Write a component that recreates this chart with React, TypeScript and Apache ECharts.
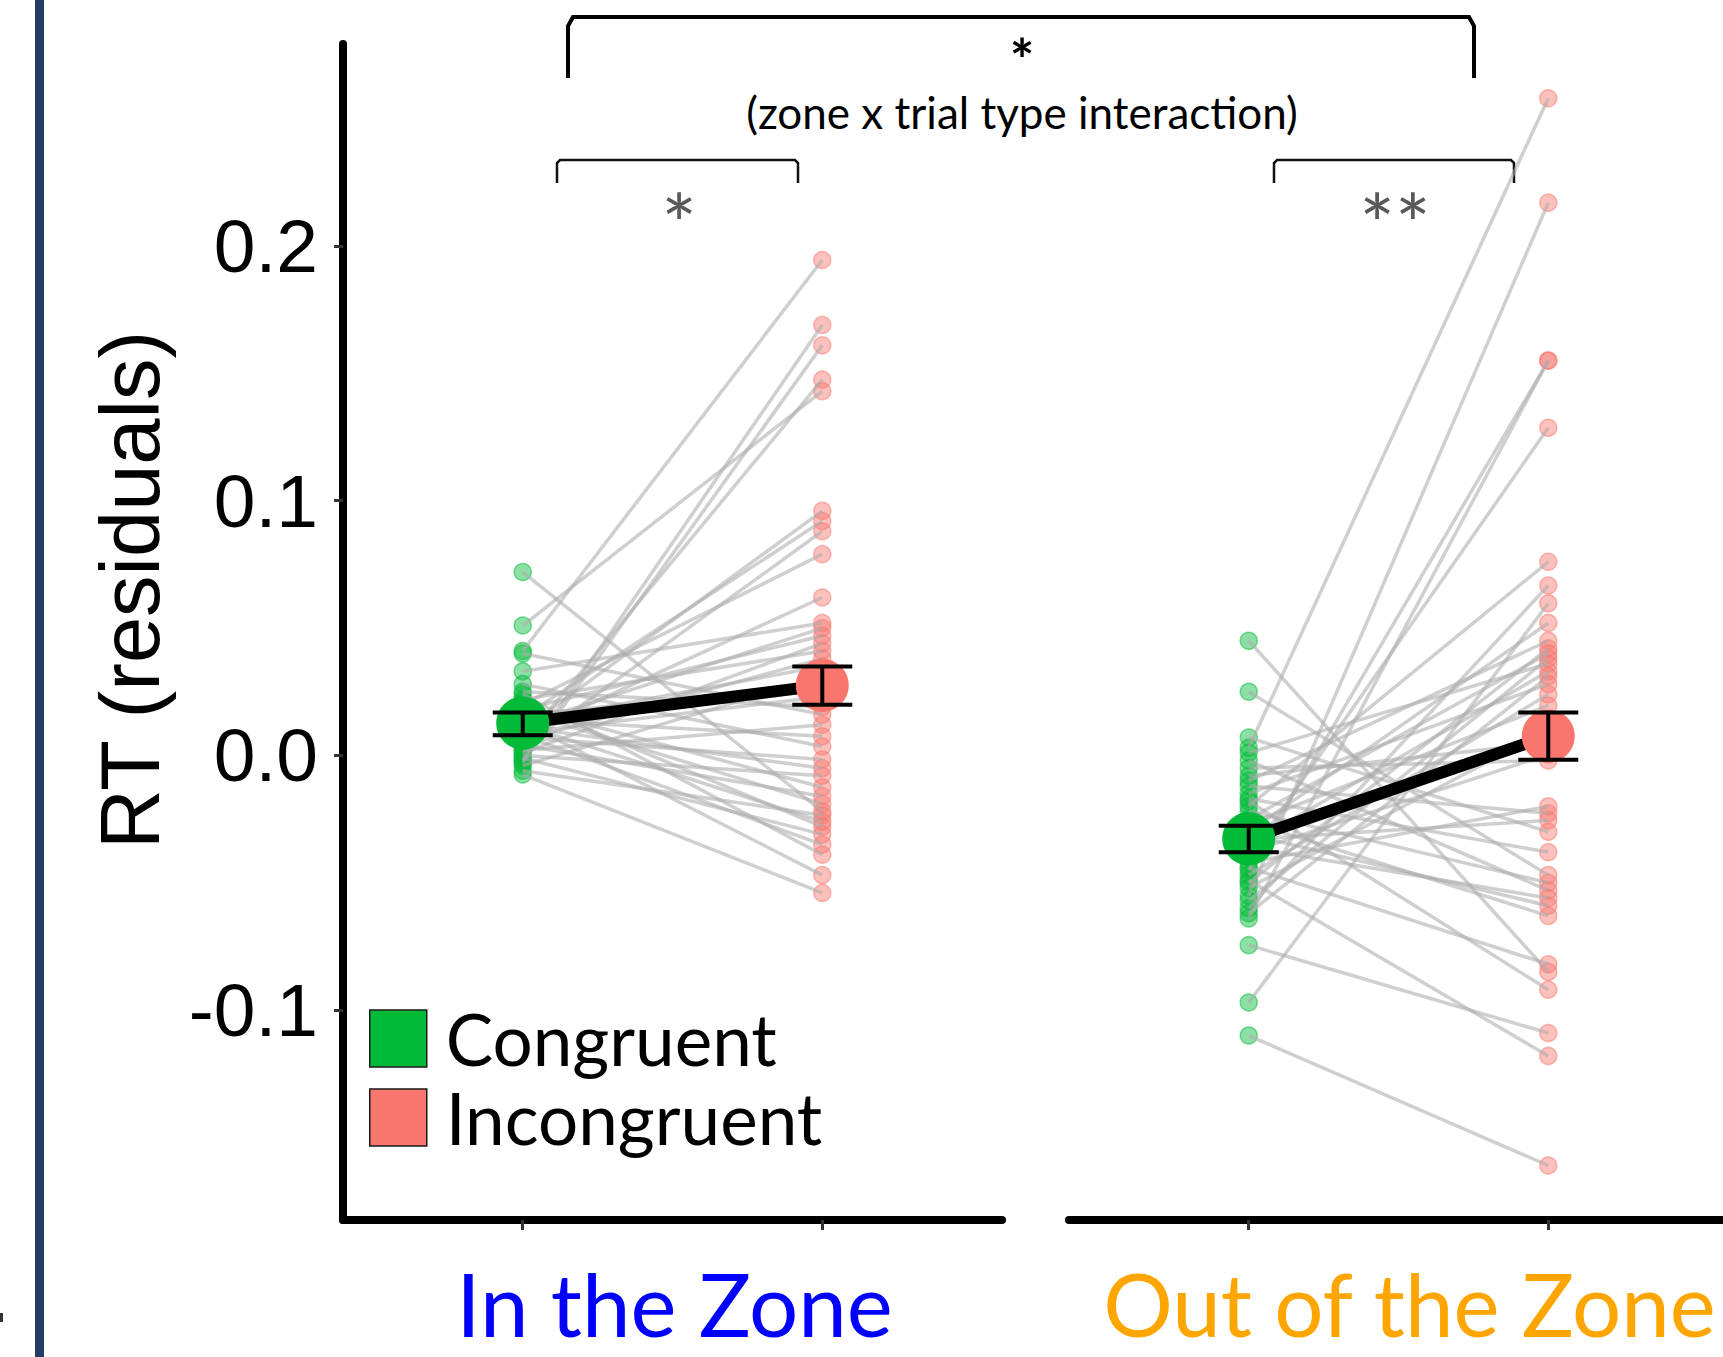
import React, { useEffect, useRef } from 'react';
import * as echarts from 'echarts';

// ---- data ----
const trialTypes = ['Congruent', 'Incongruent'];
const zoneLabels = ['In the Zone', 'Out of the Zone'];
const yTickValues = [-0.1, 0, 0.1, 0.2];
const yTickLabels = ['-0.1', '0.0', '0.1', '0.2'];
const yMin = -0.1824;
const yMax = 0.2793;

// individual participants, paired by index (congruent -> incongruent)
const inZoneCongruent = [0.041, -0.002, -0.003, 0.005, 0.051, 0.010, 0.015, 0.003, 0.020, 0.008, 0.040, 0.012, 0.018, 0.001, 0.022, 0.006, 0.013, -0.004, 0.016, 0.009, 0.025, 0.033, 0.002, 0.014, 0.028, 0.007, 0.011, 0.000, 0.019, 0.004, 0.017, 0.072, -0.006, 0.012, 0.021, -0.001, 0.008, 0.024, 0.013, -0.0075];
const inZoneIncongruent = [0.1945, 0.169, 0.161, 0.1475, 0.143, 0.096, 0.092, 0.088, 0.079, 0.062, 0.016, 0.050, 0.047, 0.044, 0.041, 0.038, 0.035, 0.031, 0.027, 0.023, 0.019, 0.052, 0.012, 0.0075, 0.0035, -0.0016, -0.005, -0.008, -0.0125, -0.016, -0.019, -0.022, -0.0235, -0.026, -0.028, -0.031, -0.035, -0.039, -0.047, -0.054];
const outZoneCongruent = [0.003, -0.055, -0.064, -0.045, -0.040, -0.097, -0.020, -0.060, -0.030, -0.010, -0.050, -0.025, -0.057, 0.001, -0.035, -0.062, -0.015, -0.047, -0.027, -0.052, -0.008, -0.038, -0.005, -0.042, -0.012, -0.033, 0.007, -0.017, 0.025, -0.022, -0.002, -0.036, -0.031, -0.026, 0.045, -0.044, -0.018, -0.0745, -0.049, -0.110];
const outZoneIncongruent = [0.258, 0.217, 0.155, 0.155, 0.1286, 0.0597, 0.076, 0.0667, 0.052, 0.045, 0.042, 0.040, 0.038, 0.036, 0.033, 0.031, 0.028, 0.024, 0.0196, 0.010, 0.005, 0.0004, -0.002, -0.020, -0.0227, -0.0255, -0.030, -0.038, -0.047, -0.050, -0.053, -0.056, -0.059, -0.063, -0.085, -0.082, -0.092, -0.109, -0.118, -0.161];

// condition means and error bars [congruent, incongruent]
const inZoneMean = [0.0127, 0.0275];
const inZoneLow = [0.0079, 0.0199];
const inZoneHigh = [0.0168, 0.0349];
const outZoneMean = [-0.0327, 0.0076];
const outZoneLow = [-0.0380, -0.0017];
const outZoneHigh = [-0.0276, 0.0168];

const GREEN = '#00BA38';
const RED = '#F8766D';
const LATO = 'Lato, "Open Sans", sans-serif';
const ARIAL = '"Liberation Sans", Arial, sans-serif';

function panelSeries(idx: number, cong: number[], incong: number[], mean: number[], lo: number[], hi: number[]) {
  const s: any[] = [];
  s.push({
    type: 'scatter', name: 'pts-c-' + idx, xAxisIndex: idx, yAxisIndex: idx, silent: true, z: 1,
    data: cong.map((v) => [1, v]), symbolSize: 17,
    itemStyle: { color: 'rgba(0,186,56,0.45)', borderColor: 'rgba(0,186,56,0.5)', borderWidth: 1.5, opacity: 1 },
  });
  s.push({
    type: 'scatter', name: 'pts-i-' + idx, xAxisIndex: idx, yAxisIndex: idx, silent: true, z: 1,
    data: incong.map((v) => [2, v]), symbolSize: 17,
    itemStyle: { color: 'rgba(248,118,109,0.45)', borderColor: 'rgba(248,118,109,0.5)', borderWidth: 1.5, opacity: 1 },
  });
  cong.forEach((c, i) => {
    s.push({
      type: 'line', name: 'subj-' + idx + '-' + i, xAxisIndex: idx, yAxisIndex: idx, silent: true, z: 2,
      data: [[1, c], [2, incong[i]]], symbol: 'none',
      lineStyle: { color: 'rgba(172,172,172,0.58)', width: 3.5 },
    });
  });
  s.push({
    type: 'line', name: 'mean-line-' + idx, xAxisIndex: idx, yAxisIndex: idx, silent: true, z: 3,
    data: [[1, mean[0]], [2, mean[1]]], symbol: 'none',
    lineStyle: { color: '#000', width: 12 },
  });
  s.push({
    type: 'scatter', name: trialTypes[0], xAxisIndex: idx, yAxisIndex: idx, z: 4,
    data: [[1, mean[0]]], symbolSize: 53, itemStyle: { color: GREEN, opacity: 1 },
  });
  s.push({
    type: 'scatter', name: trialTypes[1], xAxisIndex: idx, yAxisIndex: idx, z: 4,
    data: [[2, mean[1]]], symbolSize: 53, itemStyle: { color: RED, opacity: 1 },
  });
  s.push({
    type: 'custom', name: 'err-' + idx, xAxisIndex: idx, yAxisIndex: idx, z: 5, silent: true,
    data: [[1, lo[0], hi[0]], [2, lo[1], hi[1]]],
    encode: { x: 0, y: [1, 2] },
    renderItem: (params: any, api: any) => {
      const x = api.value(0);
      const p1 = api.coord([x, api.value(1)]);
      const p2 = api.coord([x, api.value(2)]);
      const hw = 30;
      const st = { stroke: '#000', lineWidth: 4 };
      return {
        type: 'group',
        children: [
          { type: 'line', shape: { x1: p1[0], y1: p1[1], x2: p2[0], y2: p2[1] }, style: st },
          { type: 'line', shape: { x1: p1[0] - hw, y1: p1[1], x2: p1[0] + hw, y2: p1[1] }, style: st },
          { type: 'line', shape: { x1: p2[0] - hw, y1: p2[1], x2: p2[0] + hw, y2: p2[1] }, style: st },
        ],
      };
    },
  });
  return s;
}

export default function App() {
  const ref = useRef<HTMLDivElement>(null);
  useEffect(() => {
    if (!ref.current) return;
    const chart = echarts.init(ref.current, undefined, { renderer: 'svg' });
    const axisLine = { show: true, onZero: false, lineStyle: { color: '#000', width: 8, cap: 'round' } };
    const option: any = {
      animation: false,
      backgroundColor: '#fff',
      grid: [
        { left: 343, top: 44, width: 659, height: 1176, outerBoundsMode: 'none' },
        { left: 1069, top: 44, width: 659, height: 1176, outerBoundsMode: 'none' },
      ],
      xAxis: [0, 1].map((i) => ({
        gridIndex: i, type: 'value', min: 0.4, max: 2.6,
        axisLine,
        axisTick: { show: true, customValues: [1, 2], length: 10, lineStyle: { color: '#333', width: 3 } },
        axisLabel: { show: false },
        splitLine: { show: false },
        name: zoneLabels[i], nameLocation: 'middle', nameGap: 40,
        nameTextStyle: {
          fontFamily: LATO, fontSize: 87, color: i === 0 ? '#0000FF' : '#FFA500',
          padding: i === 0 ? [0, 0, 0, 4] : [0, 0, 0, 22],
        },
      })),
      yAxis: [
        {
          gridIndex: 0, type: 'value', min: yMin, max: yMax,
          axisLine,
          axisTick: { show: true, customValues: yTickValues, length: 9, lineStyle: { color: '#333', width: 3 } },
          axisLabel: {
            show: true, customValues: yTickValues, margin: 25,
            formatter: (v: number) => {
              const k = yTickValues.findIndex((t) => Math.abs(t - v) < 1e-9);
              return k >= 0 ? yTickLabels[k] : v.toFixed(1);
            },
            fontFamily: ARIAL, fontSize: 75, color: '#000',
          },
          splitLine: { show: false },
        },
        { gridIndex: 1, type: 'value', min: yMin, max: yMax, show: false, splitLine: { show: false } },
      ],
      legend: {
        orient: 'vertical', left: 364, top: 998, itemWidth: 57, itemHeight: 57, itemGap: 8,
        selectedMode: false, icon: 'rect',
        data: [
          { name: trialTypes[0], itemStyle: { color: GREEN, opacity: 1, borderColor: '#1a1a1a', borderWidth: 1.5 } },
          { name: trialTypes[1], itemStyle: { color: RED, opacity: 1, borderColor: '#1a1a1a', borderWidth: 1.5 } },
        ],
        textStyle: { fontFamily: LATO, fontSize: 71, color: '#000', padding: [0, 0, 0, 14] },
      },
      graphic: [
        { type: 'rect', shape: { x: 35, y: 0, width: 9, height: 1357 }, style: { fill: '#253C67' } },
        { type: 'rect', shape: { x: 0, y: 1313, width: 3, height: 9 }, style: { fill: '#333' } },
        {
          type: 'text', x: 130, y: 590, rotation: Math.PI / 2,
          style: { text: 'RT (residuals)', font: '83px "Liberation Sans", Arial, sans-serif', fill: '#000', textAlign: 'center', textVerticalAlign: 'middle' },
        },
        {
          type: 'polyline',
          shape: { points: [[568, 78], [568, 26], [573, 17], [1469, 17], [1474, 26], [1474, 78]] },
          style: { stroke: '#000', lineWidth: 4, fill: null },
        },
        {
          type: 'polyline',
          shape: { points: [[557, 183], [557, 163], [560, 160], [795, 160], [798, 163], [798, 183]] },
          style: { stroke: '#111', lineWidth: 2.5, fill: null },
        },
        {
          type: 'polyline',
          shape: { points: [[1274, 183], [1274, 163], [1277, 160], [1511, 160], [1514, 163], [1514, 183]] },
          style: { stroke: '#111', lineWidth: 2.5, fill: null },
        },
        {
          type: 'text', x: 1022, y: 58,
          style: { text: '*', font: 'bold 58px Lato, sans-serif', fill: '#000', textAlign: 'center', textVerticalAlign: 'middle' },
        },
        {
          type: 'text', x: 1022, y: 112,
          style: { text: '(zone x trial type interaction)', font: '44px Lato, sans-serif', fill: '#000', textAlign: 'center', textVerticalAlign: 'middle' },
        },
        {
          type: 'text', x: 679, y: 222,
          style: { text: '*', font: '84px Lato, sans-serif', fill: '#595959', textAlign: 'center', textVerticalAlign: 'middle' },
        },
        {
          type: 'text', x: 1395, y: 222,
          style: { text: '**', font: '84px Lato, sans-serif', fill: '#595959', textAlign: 'center', textVerticalAlign: 'middle' },
        },
      ],
      series: [
        ...panelSeries(0, inZoneCongruent, inZoneIncongruent, inZoneMean, inZoneLow, inZoneHigh),
        ...panelSeries(1, outZoneCongruent, outZoneIncongruent, outZoneMean, outZoneLow, outZoneHigh),
      ],
    };
    chart.setOption(option);
    return () => chart.dispose();
  }, []);
  return (
    <div
      ref={ref}
      style={{ position: 'absolute', left: 0, top: 0, width: 1723, height: 1357, background: '#fff' }}
    />
  );
}
